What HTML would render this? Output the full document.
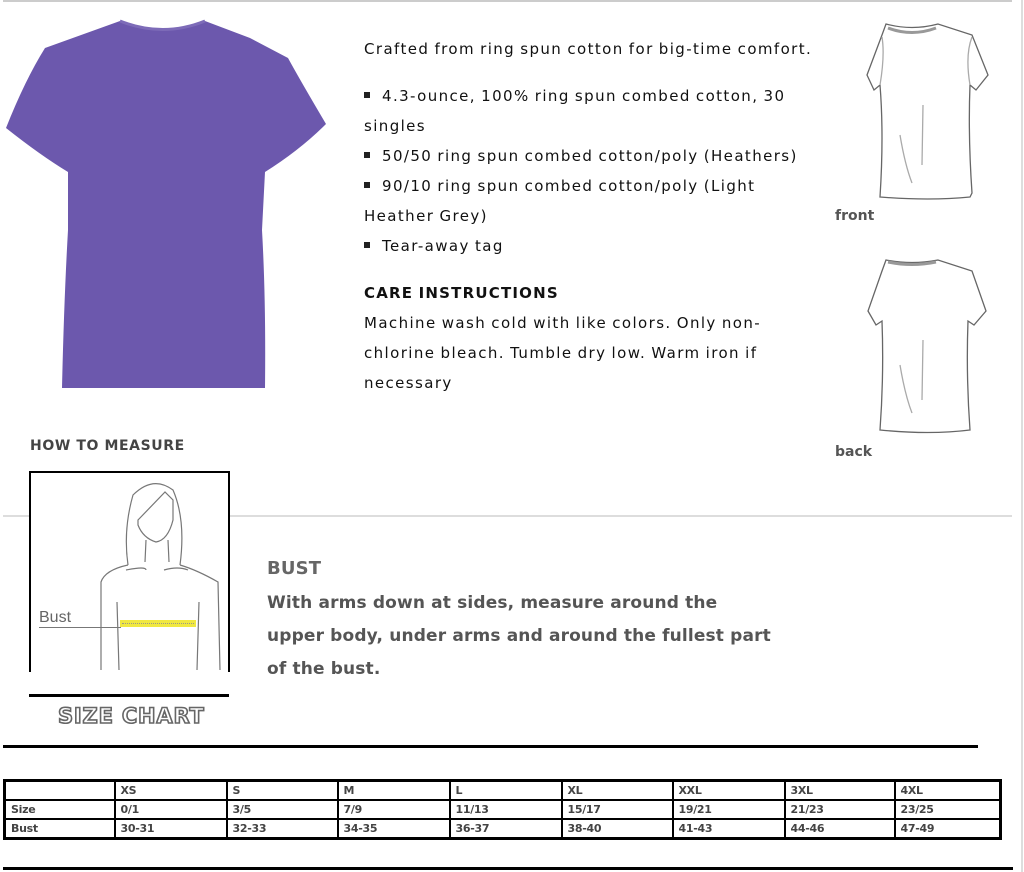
<!DOCTYPE html>
<html><head><meta charset="utf-8">
<style>
body{margin:0;width:1024px;height:872px;background:#fff;position:relative;overflow:hidden;font-family:"DejaVu Sans","Liberation Sans",sans-serif;}
.a{position:absolute;white-space:nowrap;}
.t{font-size:15px;letter-spacing:1.4px;color:#111;line-height:20px;word-spacing:-1px;}
.b{font-size:17px;font-weight:bold;color:#555;letter-spacing:0.15px;line-height:22px;}
.sq{display:inline-block;width:6px;height:6px;background:#222;margin:0 12px 3px 0;vertical-align:middle;}
table{position:absolute;left:3px;top:779px;width:999px;border-collapse:collapse;border:3px solid #000;}
td{border:2px solid #000;height:17px;padding:0 0 0 5px;font-size:11px;font-weight:bold;color:#444;letter-spacing:-0.3px;font-family:"DejaVu Sans",sans-serif;}
</style></head><body>
<div class="a" style="left:3px;top:0;width:1009px;height:2px;background:#ccc"></div>
<div class="a" style="left:1021px;top:0;width:2px;height:872px;background:#ddd"></div>
<div class="a" style="left:3px;top:515px;width:1009px;height:2px;background:#ddd"></div>

<svg class="a" style="left:0;top:0" width="340" height="400">
<path d="M120,21 Q163,38 205,21 L250,38 L288,58 Q300,80 326,124 Q300,150 265,172 L262,230 Q266,300 265,388 L62,388 Q64,300 68,230 L68,172 Q40,155 6,128 Q25,80 45,48 Z" fill="#6c58ad"/>
<path d="M120,21 Q163,38 205,21" fill="none" stroke="#7d6bb8" stroke-width="3"/>
</svg>

<div class="a t" style="left:364px;top:39px">Crafted from ring spun cotton for big-time comfort.</div>
<div class="a t" style="left:364px;top:86px"><span class="sq"></span>4.3-ounce, 100% ring spun combed cotton, 30</div>
<div class="a t" style="left:364px;top:116px">singles</div>
<div class="a t" style="left:364px;top:146px"><span class="sq"></span>50/50 ring spun combed cotton/poly (Heathers)</div>
<div class="a t" style="left:364px;top:176px"><span class="sq"></span>90/10 ring spun combed cotton/poly (Light</div>
<div class="a t" style="left:364px;top:206px">Heather Grey)</div>
<div class="a t" style="left:364px;top:236px"><span class="sq"></span>Tear-away tag</div>
<div class="a t" style="left:364px;top:283px;font-weight:bold;letter-spacing:1.2px">CARE INSTRUCTIONS</div>
<div class="a t" style="left:364px;top:313px">Machine wash cold with like colors. Only non-</div>
<div class="a t" style="left:364px;top:343px">chlorine bleach. Tumble dry low. Warm iron if</div>
<div class="a t" style="left:364px;top:373px">necessary</div>

<svg class="a" style="left:860px;top:15px" width="135" height="430" fill="none" stroke="#666" stroke-width="1.3">
<path d="M26,9 Q52,16 78,9 L112,20 L128,60 L116,75 L110,70 Q108,120 112,178 L110,182 Q70,186 20,182 Q24,120 20,70 L14,75 L7,60 L22,20 Z"/>
<path d="M28,13 Q52,22 76,13" stroke="#999" stroke-width="3"/>
<path d="M20,70 Q25,40 22,22 M110,70 Q105,40 112,22 M63,90 L62,150 M40,120 Q45,150 52,168" stroke="#aaa"/>
<path d="M26,245 Q52,250 78,245 L112,256 L126,296 L114,310 L108,306 Q106,360 110,415 Q70,420 20,415 Q24,360 22,306 L16,310 L8,296 L22,256 Z"/>
<path d="M28,247 Q52,252 76,247" stroke="#999" stroke-width="3"/>
<path d="M63,325 L62,385 M40,350 Q45,380 52,398" stroke="#aaa"/>
</svg>
<div class="a" style="left:835px;top:208px;font-size:14px;font-weight:bold;color:#555">front</div>
<div class="a" style="left:835px;top:444px;font-size:14px;font-weight:bold;color:#555">back</div>

<div class="a" style="left:30px;top:438px;font-size:14px;font-weight:bold;color:#444;letter-spacing:0.6px">HOW TO MEASURE</div>
<div class="a" style="left:29px;top:471px;width:197px;height:199px;border:2px solid #000;border-bottom:none;background:#fff"></div>
<svg class="a" style="left:25px;top:470px" width="210" height="200" fill="none" stroke="#777" stroke-width="1.2">
<path d="M103,95 Q98,60 108,25 Q128,5 148,20 Q161,50 155,95"/>
<path d="M113,50 L140,22 L148,30 L148,50 Q143,70 131,72 Q118,68 113,55 Z"/>
<path d="M121,70 L120,92 M143,70 L144,92"/>
<path d="M103,95 Q80,100 76,112 L76,200 M155,95 Q172,100 193,112 L195,200"/>
<path d="M101,100 Q121,96 121,100 M139,100 Q153,96 163,100"/>
<path d="M92,132 L94,200 M174,132 L172,200"/>
</svg>
<div class="a" style="left:120px;top:620px;width:76px;height:7px;background:#f0e840"></div>
<div class="a" style="left:122px;top:623px;width:72px;height:2px;border-top:1px dotted #998"></div>
<div class="a" style="left:39px;top:609px;font-size:16px;color:#666;font-family:'Liberation Sans',sans-serif">Bust</div>
<div class="a" style="left:39px;top:627px;width:82px;height:1px;background:#777"></div>

<div class="a" style="left:29px;top:694px;width:200px;height:3px;background:#000"></div>
<div class="a" style="left:58px;top:704px;font-size:21px;font-weight:900;color:#fff;-webkit-text-stroke:1.6px #666;letter-spacing:0.8px;font-family:'DejaVu Sans',sans-serif">SIZE CHART</div>

<div class="a b" style="left:267px;top:558px;font-size:18px;color:#666">BUST</div>
<div class="a b" style="left:267px;top:592px">With arms down at sides, measure around the</div>
<div class="a b" style="left:267px;top:625px">upper body, under arms and around the fullest part</div>
<div class="a b" style="left:267px;top:658px">of the bust.</div>

<div class="a" style="left:3px;top:745px;width:975px;height:3px;background:#000"></div>

<table>
<colgroup><col style="width:110px"><col style="width:112px"><col style="width:111px"><col style="width:112px"><col style="width:112px"><col style="width:111px"><col style="width:112px"><col style="width:110px"><col></colgroup>
<tr><td></td><td>XS</td><td>S</td><td>M</td><td>L</td><td>XL</td><td>XXL</td><td>3XL</td><td>4XL</td></tr>
<tr><td>Size</td><td>0/1</td><td>3/5</td><td>7/9</td><td>11/13</td><td>15/17</td><td>19/21</td><td>21/23</td><td>23/25</td></tr>
<tr><td>Bust</td><td>30-31</td><td>32-33</td><td>34-35</td><td>36-37</td><td>38-40</td><td>41-43</td><td>44-46</td><td>47-49</td></tr>
</table>

<div class="a" style="left:3px;top:867px;width:1010px;height:3px;background:#000"></div>
</body></html>
